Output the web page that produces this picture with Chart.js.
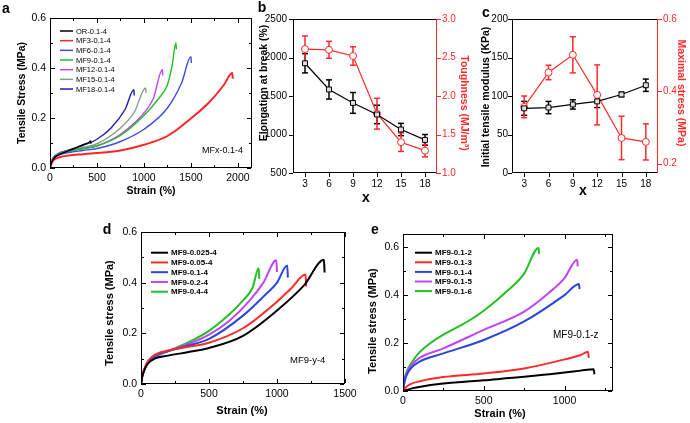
<!DOCTYPE html>
<html>
<head>
<meta charset="utf-8">
<script src="https://cdn.jsdelivr.net/npm/chart.js@4.4.1/dist/chart.umd.min.js"></script>
<style>
html, body { margin: 0; padding: 0; background: #fff; }
#wrap { position: relative; width: 690px; height: 423px; overflow: hidden; }
#wrap canvas { position: absolute; left: 0; top: 0; }
</style>
</head>
<body>
<div id="wrap">
  <canvas id="pa" width="690" height="423"></canvas>
  <canvas id="pb" width="690" height="423"></canvas>
  <canvas id="pc" width="690" height="423"></canvas>
  <canvas id="pd" width="690" height="423"></canvas>
  <canvas id="pe" width="690" height="423"></canvas>
</div>
<script>
// ---------- data ----------
// panel a : MFx-0.1-4
const aStrainTicks = [0, 500, 1000, 1500, 2000];
const aStressTicks = [0, 0.2, 0.4, 0.6];
const aNames = ['OR-0.1-4', 'MF3-0.1-4', 'MF6-0.1-4', 'MF9-0.1-4', 'MF12-0.1-4', 'MF15-0.1-4', 'MF18-0.1-4'];
const aOR_x   = [0, 15, 40, 80, 150, 250, 350, 420, 432, 436];
const aOR_y   = [0, 0.02, 0.038, 0.05, 0.062, 0.077, 0.093, 0.104, 0.108, 0.097];
const aMF3_x  = [0, 20, 50, 100, 200, 350, 500, 750, 1000, 1250, 1500, 1700, 1850, 1940, 1945];
const aMF3_y  = [0, 0.022, 0.035, 0.043, 0.05, 0.055, 0.06, 0.07, 0.093, 0.128, 0.198, 0.265, 0.332, 0.38, 0.357];
const aMF6_x  = [0, 20, 50, 100, 200, 350, 500, 750, 1000, 1250, 1400, 1500, 1505];
const aMF6_y  = [0, 0.025, 0.042, 0.053, 0.062, 0.07, 0.078, 0.106, 0.155, 0.24, 0.34, 0.445, 0.42];
const aMF9_x  = [0, 20, 50, 100, 200, 350, 500, 750, 1000, 1150, 1250, 1300, 1340, 1345];
const aMF9_y  = [0, 0.028, 0.045, 0.056, 0.066, 0.077, 0.088, 0.13, 0.21, 0.275, 0.333, 0.41, 0.5, 0.475];
const aMF12_x = [0, 20, 50, 100, 200, 350, 500, 750, 1000, 1100, 1196, 1200];
const aMF12_y = [0, 0.028, 0.045, 0.057, 0.067, 0.078, 0.089, 0.135, 0.22, 0.278, 0.393, 0.37];
const aMF15_x = [0, 20, 50, 100, 200, 350, 500, 750, 900, 1018, 1022];
const aMF15_y = [0, 0.028, 0.046, 0.058, 0.07, 0.082, 0.097, 0.16, 0.225, 0.32, 0.3];
const aMF18_x = [0, 20, 50, 100, 200, 350, 500, 650, 800, 893, 897];
const aMF18_y = [0, 0.03, 0.048, 0.06, 0.072, 0.09, 0.115, 0.16, 0.235, 0.313, 0.29];

// panels b, c : x = 3..18
const xValues = [3, 6, 9, 12, 15, 18];
const elongation = [1925, 1585, 1410, 1260, 1065, 930];
const elongationErr = [125, 125, 135, 120, 80, 70];
const toughness = [2.61, 2.60, 2.52, 1.77, 1.40, 1.29];
const toughnessErr = [0.17, 0.11, 0.12, 0.2, 0.12, 0.08];
const modulus = [84, 85, 89, 93, 102, 114];
const modulusErr = [9, 8, 6, 8, 3, 8];
const maxStress = [0.357, 0.452, 0.501, 0.39, 0.271, 0.26];
const maxStressErr = [0.03, 0.02, 0.05, 0.083, 0.06, 0.05];
const elongTicks = [500, 1000, 1500, 2000, 2500];
const toughTicks = [1.0, 1.5, 2.0, 2.5, 3.0];
const modTicks = [0, 50, 100, 150, 200];
const maxTicks = [0.2, 0.4, 0.6];

// panel d : MF9-y-4
const dStrainTicks = [0, 500, 1000, 1500];
const dStressTicks = [0, 0.2, 0.4, 0.6];
const dNames = ['MF9-0.025-4', 'MF9-0.05-4', 'MF9-0.1-4', 'MF9-0.2-4', 'MF9-0.4-4'];
const d025_x = [0, 10, 25, 50, 100, 200, 350, 500, 750, 1000, 1200, 1345, 1350];
const d025_y = [0, 0.03, 0.055, 0.08, 0.1, 0.112, 0.126, 0.142, 0.19, 0.29, 0.39, 0.49, 0.44];
const d05_x  = [0, 10, 25, 50, 100, 200, 350, 500, 750, 1000, 1100, 1210, 1215];
const d05_y  = [0, 0.035, 0.06, 0.09, 0.115, 0.132, 0.147, 0.163, 0.22, 0.325, 0.375, 0.432, 0.385];
const d1_x   = [0, 10, 25, 50, 100, 200, 350, 500, 750, 900, 1000, 1075, 1080];
const d1_y   = [0, 0.033, 0.058, 0.085, 0.11, 0.13, 0.152, 0.178, 0.27, 0.345, 0.4, 0.468, 0.42];
const d2_x   = [0, 10, 25, 50, 100, 200, 350, 500, 650, 800, 900, 995, 1000];
const d2_y   = [0, 0.033, 0.058, 0.085, 0.108, 0.13, 0.158, 0.195, 0.25, 0.33, 0.4, 0.488, 0.442];
const d4_x   = [0, 10, 25, 50, 100, 200, 350, 500, 650, 750, 820, 865, 870];
const d4_y   = [0, 0.033, 0.058, 0.085, 0.106, 0.13, 0.165, 0.21, 0.275, 0.33, 0.38, 0.457, 0.415];

// panel e : MF9-0.1-z
const eStrainTicks = [0, 500, 1000];
const eStressTicks = [0, 0.2, 0.4, 0.6];
const eNames = ['MF9-0.1-2', 'MF9-0.1-3', 'MF9-0.1-4', 'MF9-0.1-5', 'MF9-0.1-6'];
const e2_x = [0, 50, 100, 250, 500, 750, 1000, 1100, 1180, 1185];
const e2_y = [0, 0.01, 0.017, 0.031, 0.045, 0.059, 0.077, 0.085, 0.091, 0.07];
const e3_x = [0, 25, 50, 100, 250, 500, 750, 1000, 1100, 1145, 1150];
const e3_y = [0, 0.02, 0.03, 0.04, 0.058, 0.073, 0.094, 0.132, 0.15, 0.164, 0.138];
const e4_x = [0, 10, 25, 50, 100, 250, 500, 750, 1000, 1089, 1093];
const e4_y = [0, 0.04, 0.07, 0.096, 0.122, 0.157, 0.213, 0.29, 0.4, 0.446, 0.425];
const e5_x = [0, 10, 25, 50, 100, 250, 500, 750, 900, 1000, 1078, 1082];
const e5_y = [0, 0.045, 0.078, 0.105, 0.137, 0.178, 0.255, 0.331, 0.408, 0.471, 0.548, 0.52];
const e6_x = [0, 10, 25, 50, 100, 150, 250, 400, 500, 650, 750, 839, 843];
const e6_y = [0, 0.05, 0.085, 0.115, 0.16, 0.19, 0.235, 0.29, 0.335, 0.42, 0.49, 0.597, 0.572];

// ---------- helpers ----------
const FONT = "'Liberation Sans', Arial, Helvetica, sans-serif";
const W = 690, H = 423;
const LW = 30, RW = 30, BH = 20;
const RED = '#ff2a2a';

function pts(xs, ys) { return xs.map((x, i) => ({ x: x, y: ys[i] })); }

function axis(pos, min, max, ticks, digits, color, size, pad) {
  return {
    type: 'linear', position: pos, min: min, max: max,
    grid: { display: false, drawTicks: false }, border: { display: false },
    ticks: { color: color, padding: pad, font: { family: FONT, size: size },
             autoSkip: false, maxRotation: 0,
             callback: v => Number(v).toFixed(digits) },
    afterBuildTicks: s => { s.ticks = ticks.map(v => ({ value: v })); },
    afterFit: s => { if (pos === 'bottom') s.height = BH; else s.width = pos === 'left' ? LW : RW; }
  };
}

function curve(label, xs, ys, color, width) {
  return { label: label, data: pts(xs, ys), borderColor: color, backgroundColor: color,
           borderWidth: width, pointRadius: 0, showLine: true,
           cubicInterpolationMode: 'monotone', fill: false };
}

function stroke(ctx, x1, y1, x2, y2, col) {
  ctx.strokeStyle = col;
  ctx.beginPath(); ctx.moveTo(x1, y1); ctx.lineTo(x2, y2); ctx.stroke();
}

// 1px axis pieces as filled rectangles
function hbar(ctx, x1, x2, y, col) {
  ctx.fillStyle = col;
  ctx.fillRect(Math.min(x1, x2), y, Math.abs(x2 - x1) || 1, 1);
}
function vbar(ctx, x, y1, y2, col) {
  ctx.fillStyle = col;
  ctx.fillRect(x, Math.min(y1, y2), 1, Math.abs(y2 - y1) || 1);
}

function midpoints(scale) {
  const v = scale.ticks.map(t => t.value), out = [];
  for (let i = 0; i < v.length - 1; i++) out.push((v[i] + v[i + 1]) / 2);
  if (v.length > 1) {
    const next = v[v.length - 1] + (v[1] - v[0]) / 2;
    if (next < scale.max) out.push(next);
  }
  return out;
}

// one plugin per panel: error bars under the markers, then frame, ticks, texts, legend
function panelPlugin(cfg) {
  return {
    id: 'panel',
    beforeDatasetsDraw(chart) {
      const ctx = chart.ctx;
      chart.data.datasets.forEach(ds => {
        if (!ds.errs) return;
        const xs = chart.scales.x, ys = chart.scales[ds.yAxisID || 'y'];
        ctx.save();
        ctx.lineWidth = 1.5;
        ds.data.forEach((p, j) => {
          const x = xs.getPixelForValue(p.x);
          const y1 = ys.getPixelForValue(p.y - ds.errs[j]);
          const y2 = ys.getPixelForValue(p.y + ds.errs[j]);
          stroke(ctx, x, y1, x, y2, ds.borderColor);
          stroke(ctx, x - 3, y1, x + 3, y1, ds.borderColor);
          stroke(ctx, x - 3, y2, x + 3, y2, ds.borderColor);
        });
        ctx.restore();
      });
    },
    afterDraw(chart) {
      const ctx = chart.ctx, sc = chart.scales;
      // frame edges taken from the scales themselves
      const L = Math.round(sc.x.getPixelForValue(sc.x.min));
      const R = Math.round(sc.x.getPixelForValue(sc.x.max)) - 1;
      const T = Math.round(sc.y.getPixelForValue(sc.y.max));
      const B = Math.round(sc.y.getPixelForValue(sc.y.min)) - 1;
      const out = cfg.outward;
      const tl = 4;
      ctx.save();
      hbar(ctx, L, R + 1, T, '#000');
      hbar(ctx, L, R + 1, B, '#000');
      vbar(ctx, L, T, B + 1, '#000');
      vbar(ctx, R, T, B + 1, sc.y2 ? RED : '#000');
      sc.x.ticks.forEach(t => {
        const p = Math.round(sc.x.getPixelForValue(t.value));
        if (out) vbar(ctx, p, B, B + tl + 1, '#000');
        else { vbar(ctx, p, B - tl, B, '#000'); vbar(ctx, p, T, T + tl + 1, '#000'); }
      });
      sc.y.ticks.forEach(t => {
        const p = Math.round(sc.y.getPixelForValue(t.value));
        if (out) hbar(ctx, L - tl, L, p, '#000');
        else { hbar(ctx, L, L + tl + 1, p, '#000'); hbar(ctx, R - tl, R, p, '#000'); }
      });
      if (sc.y2) sc.y2.ticks.forEach(t => {
        const p = Math.round(sc.y2.getPixelForValue(t.value));
        hbar(ctx, R, R + tl + 1, p, RED);
      });
      if (!out) {
        midpoints(sc.x).forEach(v => {
          const p = Math.round(sc.x.getPixelForValue(v));
          vbar(ctx, p, B - 2, B, '#000'); vbar(ctx, p, T, T + 3, '#000');
        });
        midpoints(sc.y).forEach(v => {
          const p = Math.round(sc.y.getPixelForValue(v));
          hbar(ctx, L, L + 3, p, '#000'); hbar(ctx, R - 2, R, p, '#000');
        });
      }
      ctx.restore();

      cfg.texts.forEach(t => {
        ctx.save();
        ctx.translate(t.x, t.y);
        ctx.rotate((t.rot || 0) * Math.PI / 180);
        ctx.font = t.font; ctx.fillStyle = t.color || '#000';
        ctx.textAlign = t.align || 'center'; ctx.textBaseline = 'middle';
        ctx.fillText(t.text, 0, 0);
        ctx.restore();
      });

      const lg = cfg.legend;
      if (!lg) return;
      ctx.save();
      chart.data.datasets.forEach((ds, i) => {
        const y = lg.y + i * lg.dy;
        ctx.lineWidth = lg.lw;
        stroke(ctx, lg.x, y, lg.x + lg.len, y, ds.borderColor);
        ctx.fillStyle = '#000'; ctx.font = lg.font;
        ctx.textAlign = 'left'; ctx.textBaseline = 'middle';
        ctx.fillText(ds.label, lg.x + lg.len + 3, y + 0.5);
      });
      ctx.restore();
    }
  };
}

function makeChart(id, area, datasets, scales, cfg) {
  const hasRight = !!scales.y2;
  return new Chart(document.getElementById(id), {
    type: 'scatter',
    data: { datasets: datasets },
    options: {
      responsive: false, animation: false, devicePixelRatio: 1,
      layout: { autoPadding: false, padding: {
        left: area.l - LW, right: W - area.r - (hasRight ? RW : 0),
        top: area.t, bottom: H - area.b - BH } },
      plugins: { legend: { display: false }, tooltip: { enabled: false } },
      scales: scales
    },
    plugins: [panelPlugin(cfg)]
  });
}

const TB = 'bold 10.5px ' + FONT;

// ---------- panel a ----------
const aCols = ['#000000', '#ff2525', '#3a4fd8', '#22c022', '#c444ee', '#80a080', '#1e1ea6'];
const aXs = [aOR_x, aMF3_x, aMF6_x, aMF9_x, aMF12_x, aMF15_x, aMF18_x];
const aYs = [aOR_y, aMF3_y, aMF6_y, aMF9_y, aMF12_y, aMF15_y, aMF18_y];
makeChart('pa', { l: 50, r: 252, t: 18, b: 168 },
  aNames.map((n, i) => curve(n, aXs[i], aYs[i], aCols[i], i === 1 ? 2 : 1.4)),
  { x: axis('bottom', 0, 2150, aStrainTicks, 0, '#000', 10.5, 4),
    y: axis('left', 0, 0.6, aStressTicks, 1, '#000', 10.5, 4) },
  { outward: false,
    texts: [
      { text: 'a', x: 6, y: 9, font: 'bold 14px ' + FONT },
      { text: 'Tensile Stress (MPa)', x: 22, y: 93, rot: -90, font: TB },
      { text: 'Strain (%)', x: 151, y: 191, font: TB },
      { text: 'MFx-0.1-4', x: 202, y: 151, align: 'left', font: '9px ' + FONT }
    ],
    legend: { x: 60, y: 31, dy: 9.67, len: 13, lw: 1.5, font: '7.5px ' + FONT } });

// ---------- panel b ----------
makeChart('pb', { l: 293, r: 437, t: 19, b: 173 },
  [ { label: 'Elongation', data: pts(xValues, elongation), errs: elongationErr, yAxisID: 'y',
      borderColor: '#000', backgroundColor: '#e0e0e0', borderWidth: 1.2, showLine: true,
      pointStyle: 'rect', pointRadius: 3.5, pointBorderWidth: 1 },
    { label: 'Toughness', data: pts(xValues, toughness), errs: toughnessErr, yAxisID: 'y2',
      borderColor: RED, backgroundColor: '#fff', borderWidth: 1.2, showLine: true,
      pointStyle: 'circle', pointRadius: 3.5, pointBorderWidth: 1 } ],
  { x: axis('bottom', 1.5, 19.5, xValues, 0, '#000', 10, 5),
    y: axis('left', 500, 2500, elongTicks, 0, '#000', 10, 6),
    y2: axis('right', 1.0, 3.0, toughTicks, 1, RED, 10, 5) },
  { outward: true,
    texts: [
      { text: 'b', x: 262, y: 8, font: 'bold 14px ' + FONT },
      { text: 'Elongation at break (%)', x: 264, y: 83, rot: -90, font: TB },
      { text: 'Toughness (MJ/m\u00b3)', x: 464, y: 103, rot: 90, color: RED, font: TB },
      { text: 'x', x: 366, y: 198, font: 'bold 14px ' + FONT }
    ] });

// ---------- panel c ----------
makeChart('pc', { l: 512, r: 658, t: 19, b: 173 },
  [ { label: 'Modulus', data: pts(xValues, modulus), errs: modulusErr, yAxisID: 'y',
      borderColor: '#000', backgroundColor: '#e0e0e0', borderWidth: 1.2, showLine: true,
      pointStyle: 'rect', pointRadius: 3.5, pointBorderWidth: 1 },
    { label: 'Maximal stress', data: pts(xValues, maxStress), errs: maxStressErr, yAxisID: 'y2',
      borderColor: RED, backgroundColor: '#fff', borderWidth: 1.2, showLine: true,
      pointStyle: 'circle', pointRadius: 3.5, pointBorderWidth: 1 } ],
  { x: axis('bottom', 1.5, 19.5, xValues, 0, '#000', 10, 5),
    y: axis('left', 0, 200, modTicks, 0, '#000', 10, 4),
    y2: axis('right', 0.174, 0.6, maxTicks, 1, RED, 10, 5) },
  { outward: true,
    texts: [
      { text: 'c', x: 486, y: 13, font: 'bold 14px ' + FONT },
      { text: 'Initial tensile modulus (KPa)', x: 486, y: 97, rot: -90, font: TB },
      { text: 'Maximal stress (MPa)', x: 681, y: 93, rot: 90, color: RED, font: TB },
      { text: 'x', x: 583, y: 191, font: 'bold 14px ' + FONT }
    ] });

// ---------- panel d ----------
const dCols = ['#000000', '#ff2a2a', '#2a45e0', '#c044f5', '#22c022'];
const dXs = [d025_x, d05_x, d1_x, d2_x, d4_x];
const dYs = [d025_y, d05_y, d1_y, d2_y, d4_y];
makeChart('pd', { l: 141, r: 345, t: 232, b: 384 },
  dNames.map((n, i) => curve(n, dXs[i], dYs[i], dCols[i], 2)),
  { x: axis('bottom', 0, 1500, dStrainTicks, 0, '#000', 10.5, 4),
    y: axis('left', 0, 0.6, dStressTicks, 1, '#000', 10.5, 4) },
  { outward: false,
    texts: [
      { text: 'd', x: 107, y: 230, font: 'bold 14px ' + FONT },
      { text: 'Tensile stress (MPa)', x: 110, y: 313, rot: -90, font: 'bold 11px ' + FONT },
      { text: 'Strain (%)', x: 242, y: 411, font: 'bold 11px ' + FONT },
      { text: 'MF9-y-4', x: 290, y: 360, align: 'left', font: '9.5px ' + FONT }
    ],
    legend: { x: 151, y: 252.7, dy: 9.75, len: 17, lw: 2, font: 'bold 8px ' + FONT } });

// ---------- panel e ----------
const eCols = ['#000000', '#ff2a2a', '#2a45e0', '#c044f5', '#22c022'];
const eXs = [e2_x, e3_x, e4_x, e5_x, e6_x];
const eYs = [e2_y, e3_y, e4_y, e5_y, e6_y];
makeChart('pe', { l: 403, r: 613, t: 234, b: 391 },
  eNames.map((n, i) => curve(n, eXs[i], eYs[i], eCols[i], 2)),
  { x: axis('bottom', 0, 1300, eStrainTicks, 0, '#000', 10.5, 4),
    y: axis('left', 0, 0.655, eStressTicks, 1, '#000', 10.5, 4) },
  { outward: false,
    texts: [
      { text: 'e', x: 375, y: 230, font: 'bold 14px ' + FONT },
      { text: 'Tensile stress (MPa)', x: 373, y: 321, rot: -90, font: 'bold 11px ' + FONT },
      { text: 'Strain (%)', x: 500, y: 414, font: 'bold 11px ' + FONT },
      { text: 'MF9-0.1-z', x: 553, y: 335, align: 'left', font: '10px ' + FONT }
    ],
    legend: { x: 415, y: 252.7, dy: 9.6, len: 17, lw: 2, font: 'bold 8px ' + FONT } });
</script>
</body>
</html>
